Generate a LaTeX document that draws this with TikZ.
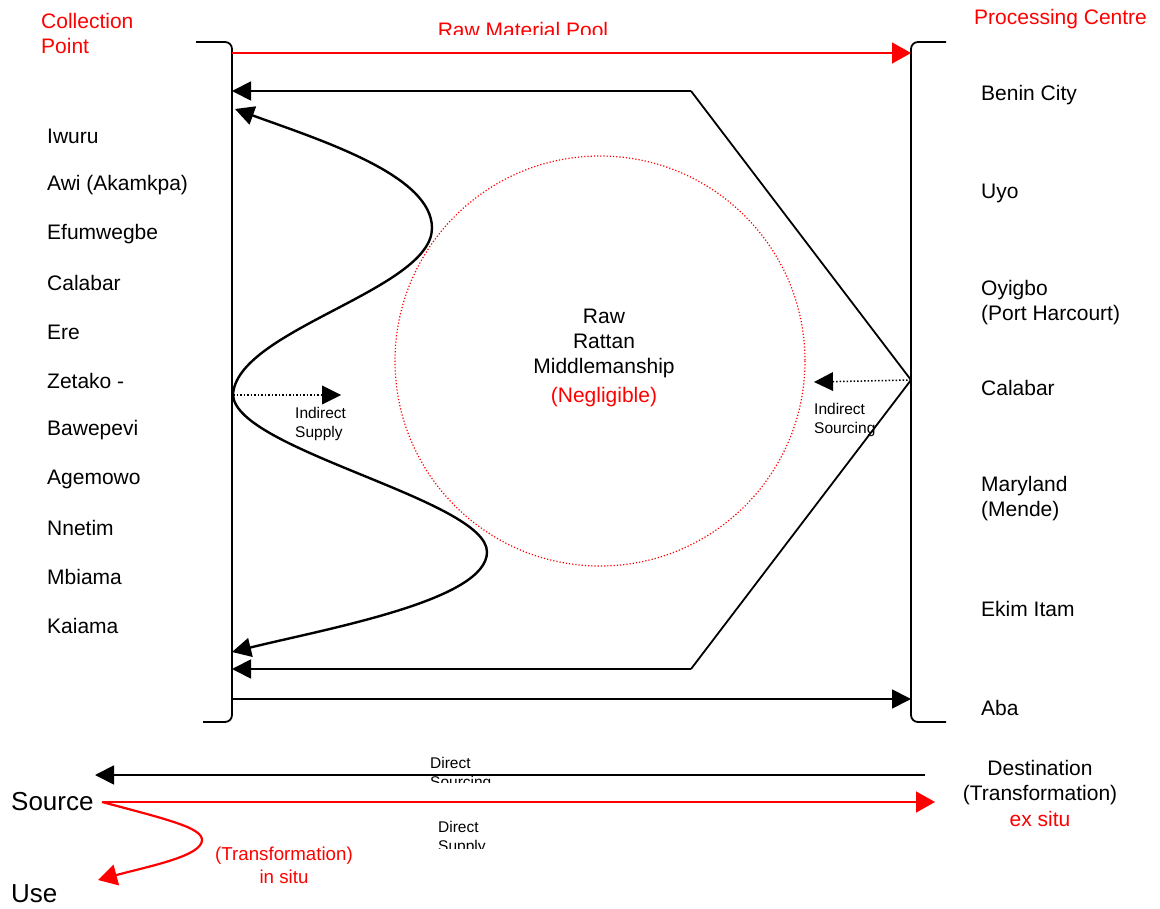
\documentclass[tikz,border=0pt]{standalone}
\usepackage{fontspec}
\setmainfont{Liberation Sans}
\usetikzlibrary{arrows.meta}
\definecolor{rd}{RGB}{255,0,0}
\begin{document}
\begin{tikzpicture}[x=1pt,y=-1pt,
  main/.style={font=\fontsize{21}{25}\selectfont, inner sep=0pt},
  lname/.style={main, anchor=west},
  small/.style={font=\fontsize{15.5}{19.5}\selectfont, inner sep=0pt, align=left, anchor=north west},
  big/.style={font=\fontsize{26}{30}\selectfont, inner sep=0pt, anchor=west},
  brk/.style={line width=1.8pt, rounded corners=7pt},
  blk/.style={line width=1.8pt},
  arr/.style={-{Triangle[length=19pt,width=19pt]}},
  rarr/.style={-{Triangle[length=19pt,width=21pt]}},
  dotarr/.style={line width=1.5pt, dotted, -{Triangle[length=19pt,width=19pt,line width=0pt]}}
]
\useasboundingbox (0,0) rectangle (1160,909);

% brackets
\draw[brk] (196,42) -- (232,42) -- (232,722) -- (203,722);
\draw[brk] (946,42) -- (911,42) -- (911,722) -- (946,722);

% coordinates
\coordinate (LT) at (232,53);
\coordinate (RT) at (911,53);
\coordinate (L1) at (232,91);
\coordinate (K1) at (691,91);
\coordinate (RM) at (911,380);
\coordinate (K2) at (691,669);
\coordinate (L2) at (232,669);
\coordinate (LB) at (232,699);
\coordinate (RB) at (911,699);
\coordinate (WM) at (233,395);
\coordinate (WT) at (235,109);
\coordinate (WB) at (232,652);
\coordinate (IS) at (341,395);
\coordinate (ISo) at (814,382);

% titles
\node[main, anchor=north west, text=rd, align=left] (cp) at (41,13) {Collection\\Point};
\node[main, anchor=west, text=rd] (pc) at (974,19) {Processing Centre};
\begin{scope}
  \clip (380,0) rectangle (700,35);
  \node[main, text=rd] (rmp) at (523,30) {Raw Material Pool};
\end{scope}

% raw material pool arrow
\draw[line width=1.5pt, rd, rarr] (LT) -- (RT);

% hexagon lines
\draw[blk, arr] (K1) -- (L1);
\draw[blk] (K1) -- (RM) -- (K2);
\draw[blk, arr] (K2) -- (L2);
\draw[blk, arr] (LB) -- (RB);

% wave
\draw[line width=2.4pt, arr] (WM) .. controls (236,330) and (432,290) .. (432,228)
   .. controls (432,175) and (320,140) .. (WT);
\draw[line width=2.4pt, arr] (WM) .. controls (236,450) and (487,500) .. (487,552)
   .. controls (487,600) and (330,628) .. (WB);

% dotted arrows
\draw[dotarr] (WM) -- (IS);
\draw[dotarr] (RM) -- (ISo);
\node[small] (isup) at (295,407) {Indirect\\Supply};
\node[small] (isrc) at (814,403) {Indirect\\Sourcing};

% circle
\draw[rd, line width=1.2pt, dotted] (600,361) circle (205);
\node[main, align=center] (mid) at (604,343) {Raw\\Rattan\\Middlemanship};
\node[main, text=rd] (neg) at (604,397) {(Negligible)};

% left names
\foreach \t [count=\i from 0] in {Iwuru, Awi (Akamkpa), Efumwegbe, Calabar, Ere, Zetako -, Bawepevi, Agemowo, Nnetim, Mbiama, Kaiama}
  \node[lname] (ln\i) at (47,136+49*\i) {\t};

% right names
\node[lname] (r1) at (981,95) {Benin City};
\node[lname] (r2) at (981,193) {Uyo};
\node[lname, align=left] (r3) at (981,303) {Oyigbo\\(Port Harcourt)};
\node[lname] (r4) at (981,388) {Calabar};
\node[lname, align=left] (r5) at (981,499) {Maryland\\(Mende)};
\node[lname] (r6) at (981,609) {Ekim Itam};
\node[lname] (r7) at (981,708) {Aba};

% bottom section
\node[big] (src) at (11,802) {Source};
\node[big] (use) at (11,894) {Use};
\node[main, align=center] (dst) at (1040,783) {Destination\\(Transformation)};
\node[main, text=rd] (exs) at (1040,819) {ex situ};
\coordinate (DS1) at (925,775);
\coordinate (DS2) at (95,775);
\coordinate (SP1) at (102,802);
\coordinate (SP2) at (935,802);
\coordinate (US) at (98,880);
\draw[blk, arr] (DS1) -- (DS2);
\draw[line width=1.5pt, rd, rarr] (SP1) -- (SP2);
\draw[line width=2.2pt, rd, rarr] (SP1) .. controls (170,820) and (202,828) .. (202,840)
   .. controls (202,856) and (150,866) .. (US);

\begin{scope}
  \clip (400,750) rectangle (520,782);
  \node[small] (dsrc) at (430,757) {Direct\\Sourcing};
\end{scope}
\begin{scope}
  \clip (400,815) rectangle (520,848);
  \node[small] (dsup) at (438,821) {Direct\\Supply};
\end{scope}
\node[font=\fontsize{18.7}{23}\selectfont, inner sep=0pt, align=center, text=rd] (tis) at (284,865) {(Transformation)\\in situ};
\end{tikzpicture}
\end{document}
